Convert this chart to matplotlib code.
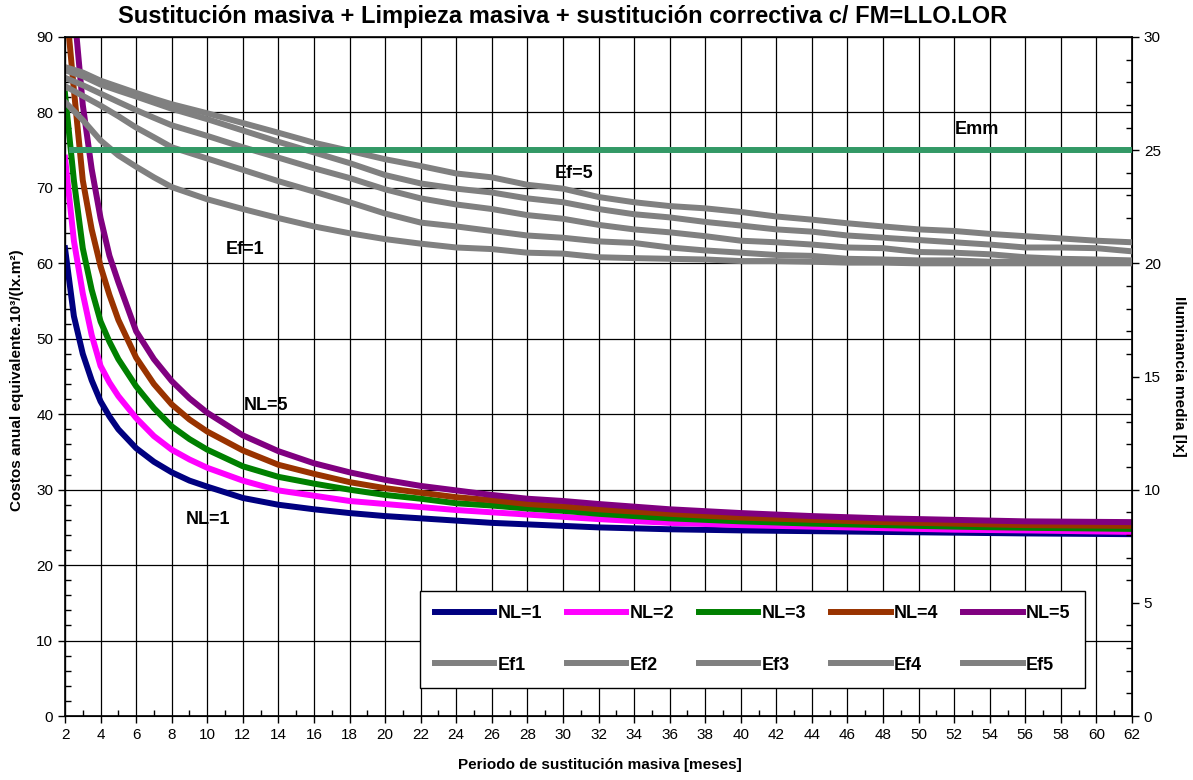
import matplotlib.pyplot as plt
from matplotlib.ticker import MultipleLocator

plt.rcParams['font.family'] = ['Liberation Sans', 'DejaVu Sans']

# costos anuales (eje izquierdo) para cada NL
meses = [2, 2.5, 3, 3.5, 4, 4.5, 5, 6, 7, 8, 9, 10, 12, 14, 16, 18, 20, 22, 24, 26, 28,
         30, 32, 36, 40, 44, 48, 52, 56, 62]
nl1 = [62.0, 53.0, 48.0, 44.5, 41.7, 39.7, 38.0, 35.5, 33.7, 32.3, 31.2, 30.4, 28.9, 28.0,
       27.4, 26.9, 26.5, 26.2, 25.9, 25.6, 25.4, 25.2, 25.0, 24.75, 24.6, 24.5, 24.4,
       24.3, 24.2, 24.1]
nl2 = [74.0, 63.0, 56.0, 50.5, 46.4, 44.2, 42.4, 39.5, 37.1, 35.3, 34.0, 32.9, 31.2, 29.9,
       29.2, 28.5, 28.1, 27.7, 27.3, 27.0, 26.7, 26.4, 26.1, 25.6, 25.3, 25.1, 24.9,
       24.7, 24.6, 24.4]
nl3 = [82.5, 71.0, 62.0, 56.5, 52.3, 49.6, 47.3, 43.7, 40.8, 38.4, 36.7, 35.3, 33.1, 31.7,
       30.8, 30.0, 29.3, 28.8, 28.2, 27.9, 27.5, 27.2, 26.8, 26.2, 25.8, 25.5, 25.3,
       25.1, 24.95, 24.8]
nl4 = [96.0, 83.0, 71.0, 64.5, 59.6, 55.8, 52.5, 47.5, 44.0, 41.3, 39.3, 37.7, 35.2, 33.3,
       32.1, 31.0, 30.2, 29.6, 29.0, 28.6, 28.1, 27.8, 27.4, 26.8, 26.3, 26.0, 25.7,
       25.5, 25.3, 25.2]
nl5 = [108.0, 94.0, 81.0, 72.5, 66.0, 61.0, 57.5, 51.0, 47.3, 44.4, 42.1, 40.2, 37.2, 35.1,
       33.5, 32.3, 31.3, 30.5, 29.9, 29.3, 28.8, 28.5, 28.1, 27.4, 26.9, 26.5, 26.2,
       26.0, 25.8, 25.7]

# iluminancia media [lx] (eje derecho)
meses_ef = [2, 3, 4, 5, 6, 7, 8, 10, 12, 14, 16, 18, 20, 22, 24, 26, 28, 30, 32, 34,
            36, 38, 40, 42, 44, 46, 48, 50, 52, 54, 56, 58, 60, 62]
ef1 = [27.13, 26.33, 25.43, 24.77, 24.27, 23.8, 23.37, 22.83, 22.4, 22.0, 21.63, 21.33,
       21.07, 20.87, 20.7, 20.63, 20.47, 20.43, 20.27, 20.23, 20.2, 20.17, 20.1, 20.1,
       20.07, 20.03, 20.03, 20.0, 20.0, 20.0, 20.0, 20.0, 20.0, 20.0]
ef2 = [27.83, 27.4, 26.97, 26.5, 26.0, 25.57, 25.13, 24.63, 24.13, 23.63, 23.17, 22.7,
       22.2, 21.8, 21.63, 21.43, 21.23, 21.13, 20.97, 20.9, 20.7, 20.57, 20.47, 20.37,
       20.33, 20.2, 20.17, 20.13, 20.13, 20.07, 20.07, 20.03, 20.03, 20.03]
ef3 = [28.2, 27.87, 27.5, 27.13, 26.77, 26.43, 26.1, 25.63, 25.13, 24.67, 24.2, 23.77,
       23.27, 22.87, 22.6, 22.4, 22.13, 21.97, 21.7, 21.5, 21.37, 21.2, 21.0, 20.93,
       20.83, 20.7, 20.67, 20.5, 20.47, 20.4, 20.27, 20.2, 20.17, 20.13]
ef4 = [28.53, 28.27, 27.9, 27.63, 27.37, 27.1, 26.83, 26.37, 25.87, 25.37, 24.9, 24.43,
       23.9, 23.53, 23.3, 23.13, 22.87, 22.7, 22.4, 22.17, 22.03, 21.83, 21.67, 21.5,
       21.4, 21.23, 21.13, 21.03, 20.93, 20.83, 20.7, 20.7, 20.67, 20.53]
ef5 = [28.67, 28.43, 28.07, 27.8, 27.53, 27.27, 27.03, 26.63, 26.2, 25.77, 25.33, 24.97,
       24.6, 24.3, 23.97, 23.8, 23.47, 23.3, 22.93, 22.7, 22.53, 22.43, 22.27, 22.07,
       21.93, 21.77, 21.63, 21.5, 21.43, 21.3, 21.2, 21.1, 21.0, 20.93]
emm_x = [2.25, 62]
emm = [25, 25]

W, H = 1193, 780
fig = plt.figure(figsize=(W / 100, H / 100), dpi=100)
ax = fig.add_axes([65 / W, 64 / H, 1067 / W, 679 / H])

lw = 4.3
l1, = ax.plot(meses, nl1, color='#000080', lw=lw, label='NL=1')
l2, = ax.plot(meses, nl2, color='#FF00FF', lw=lw, label='NL=2')
l3, = ax.plot(meses, nl3, color='#008000', lw=lw, label='NL=3')
l4, = ax.plot(meses, nl4, color='#993300', lw=lw, label='NL=4')
l5, = ax.plot(meses, nl5, color='#800080', lw=lw, label='NL=5')

ax.set_xlim(2, 62)
ax.set_ylim(0, 90)
ax.xaxis.set_major_locator(MultipleLocator(2))
ax.xaxis.set_minor_locator(MultipleLocator(1))
ax.yaxis.set_major_locator(MultipleLocator(10))
ax.yaxis.set_minor_locator(MultipleLocator(2))
ax.grid(which='major', color='black', lw=0.9)
ax.tick_params(which='major', direction='out', length=5, labelsize=11, width=1)
ax.tick_params(which='minor', direction='in', length=4, width=1)
for s in ax.spines.values():
    s.set_linewidth(1.2)

ax2 = ax.twinx()
gris = '#808080'
e1, = ax2.plot(meses_ef, ef1, color=gris, lw=lw, label='Ef1')
e2, = ax2.plot(meses_ef, ef2, color=gris, lw=lw, label='Ef2')
e3, = ax2.plot(meses_ef, ef3, color=gris, lw=lw, label='Ef3')
e4, = ax2.plot(meses_ef, ef4, color=gris, lw=lw, label='Ef4')
e5, = ax2.plot(meses_ef, ef5, color=gris, lw=lw, label='Ef5')
ax2.plot(emm_x, emm, color='#339966', lw=lw, solid_capstyle='butt')
ax2.set_ylim(0, 30)
ax2.yaxis.set_major_locator(MultipleLocator(5))
ax2.yaxis.set_minor_locator(MultipleLocator(1))
ax2.tick_params(which='major', direction='out', length=5, labelsize=11, width=1)
ax2.tick_params(which='minor', direction='in', length=4, width=1)

# rotulos dentro del grafico
bold = dict(fontweight='bold', fontsize=13, ha='center', va='center')
ax.text(53.3, 77.7, 'Emm', **bold)
ax.text(30.6, 71.9, 'Ef=5', **bold)
ax.text(12.1, 61.8, 'Ef=1', **bold)
ax.text(13.3, 41.2, 'NL=5', **bold)
ax.text(10.05, 26.0, 'NL=1', **bold)

handles = [l1, e1, l2, e2, l3, e3, l4, e4, l5, e5]
leg = ax2.legend(handles, [h.get_label() for h in handles], ncol=5,
                 loc='lower left', bbox_to_anchor=(0.333, 0.041),
                 borderaxespad=0, fancybox=False, edgecolor='black', framealpha=1,
                 prop={'weight': 'bold', 'size': 13}, handlelength=3.3,
                 handletextpad=0.2, columnspacing=1.35, labelspacing=1.9,
                 borderpad=0.8)
leg.get_frame().set_linewidth(1.0)

fig.text(118 / W, 1 - 17 / H,
         'Sustitución masiva + Limpieza masiva + sustitución correctiva c/ FM=LLO.LOR',
         fontsize=17, fontweight='bold', ha='left', va='center')
fig.text(17 / W, 1 - 380 / H, 'Costos anual equivalente.10³/(lx.m²)',
         rotation=90, fontsize=11, fontweight='bold', ha='center', va='center')
fig.text(1179 / W, 1 - 376 / H, 'Iluminancia media [lx]',
         rotation=270, fontsize=11, fontweight='bold', ha='center', va='center')
fig.text(600 / W, 1 - 765 / H, 'Periodo de sustitución masiva [meses]',
         fontsize=11, fontweight='bold', ha='center', va='center')

fig.savefig('out.png', dpi=100)
